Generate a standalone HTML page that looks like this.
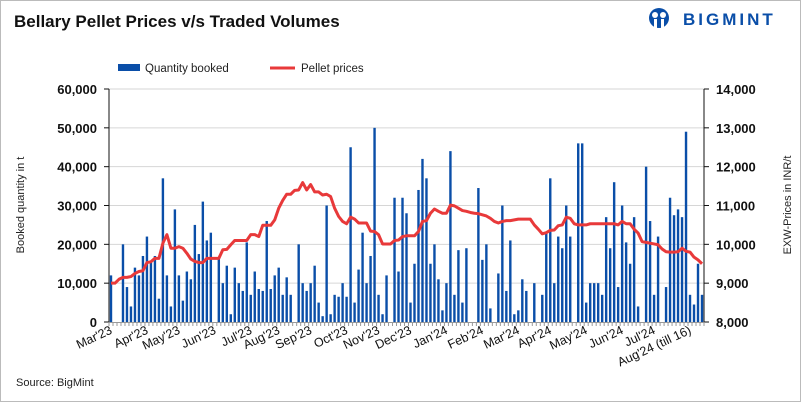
<!DOCTYPE html>
<html><head><meta charset="utf-8"><style>
body{margin:0;background:#fff;font-family:"Liberation Sans",Arial,sans-serif}
svg text{font-family:"Liberation Sans",Arial,sans-serif}
</style></head><body>
<svg width="801" height="402" viewBox="0 0 801 402">
<rect x="0.5" y="0.5" width="800" height="401" fill="#fff" stroke="#bbb"/>
<text x="14" y="27" font-size="17" font-weight="bold" fill="#111">Bellary Pellet Prices v/s Traded Volumes</text>
<g>
<circle cx="659" cy="18" r="10" fill="#0a4ea8"/>
<circle cx="655" cy="15" r="3" fill="#fff"/><circle cx="663" cy="15" r="3" fill="#fff"/>
<rect x="654" y="19" width="3" height="9" fill="#fff"/><rect x="661" y="19" width="3" height="9" fill="#fff"/>
<text x="683" y="25" font-size="17" font-weight="bold" fill="#0a4ea8" letter-spacing="3">BIGMINT</text>
</g>
<g>
<rect x="118" y="64" width="22" height="7" fill="#0a4ea8"/>
<text x="145" y="72" font-size="11.5" fill="#222">Quantity booked</text>
<line x1="270" y1="68" x2="295" y2="68" stroke="#e8393a" stroke-width="3"/>
<text x="301" y="72" font-size="11.5" fill="#222">Pellet prices</text>
</g>
<g id="grid"></g><g id="bars"></g><g id="line"></g><g id="axes"></g>
<text transform="translate(24,205) rotate(-90)" text-anchor="middle" font-size="11" fill="#222">Booked quantity in t</text>
<text transform="translate(791,205) rotate(-90)" text-anchor="middle" font-size="11" fill="#222">EXW-Prices in INR/t</text>
<text x="16" y="386" font-size="11" fill="#222">Source: BigMint</text>
</svg>
<script>
const qty=[12000,0,0,20000,9000,4000,14000,12000,17000,22000,15500,17000,6000,37000,12000,4000,29000,12000,5500,13000,11000,25000,17500,31000,21000,23000,0,16500,10000,14500,2000,14000,10000,8000,20500,7000,13000,8500,8000,26000,8500,12000,14000,7000,11500,7000,0,20000,10000,8000,10000,14500,5000,1500,30000,2000,7000,6500,10000,6500,45000,5000,13500,23000,10000,17000,50000,7000,2000,12000,0,32000,13000,32000,28000,5000,15000,34000,42000,37000,15000,20000,11000,3000,10000,44000,7000,18500,5000,19000,0,0,34500,16000,20000,3500,0,12500,30000,8000,21000,2000,3000,11000,8000,0,10000,0,7000,23000,37000,10000,22000,19000,30000,22000,0,46000,46000,5000,10000,10000,10000,7000,27000,19000,36000,9000,30000,20500,15000,27000,4000,0,40000,26000,7000,22000,0,9000,32000,27500,29000,27000,49000,7000,4500,15000,7000];
const price=[9000,9000,9100,9150,9150,9170,9250,9300,9320,9530,9550,9640,9640,10030,10250,9900,9900,9940,9900,9770,9620,9560,9530,9530,9640,9640,9640,9640,9860,9870,9990,10100,10100,10100,10100,10250,10250,10200,10490,10490,10490,10630,10930,11130,11290,11290,11390,11400,11590,11400,11540,11350,11350,11270,11290,11230,10930,10720,10590,10530,10700,10650,10550,10550,10550,10340,10330,10250,10010,10010,10010,10100,10110,10200,10220,10220,10220,10330,10590,10610,10800,10910,10850,10800,10800,11010,10990,10930,10870,10850,10820,10800,10790,10760,10730,10670,10590,10550,10590,10610,10610,10630,10650,10650,10650,10650,10500,10390,10270,10300,10360,10370,10480,10500,10700,10670,10530,10500,10500,10500,10530,10530,10530,10530,10530,10530,10530,10500,10590,10530,10530,10390,10290,10070,10050,10030,10010,9990,9880,9810,9800,9800,9810,9900,9820,9800,9670,9600,9500];
const leftTicks=["0","10,000","20,000","30,000","40,000","50,000","60,000"];
const rightTicks=["8,000","9,000","10,000","11,000","12,000","13,000","14,000"];
const monthLabels=["Mar'23","Apr'23","May'23","Jun'23","Jul'23","Aug'23","Sep'23","Oct'23","Nov'23","Dec'23","Jan'24","Feb'24","Mar'24","Apr'24","May'24","Jun'24","Jul'24","Aug'24 (till 16)"];
const monthSlot=[0,9,17,26,35,42,50,59,67,75,84,93,102,110,119,128,136,145];
const NS="http://www.w3.org/2000/svg";
const X0=109,X1=704,Y0=322,Y1=89,N=qty.length,step=(X1-X0)/N;
const xs=i=>X0+step*(i+0.5);
const yL=v=>Y0-(v/60000)*(Y0-Y1);
const yR=v=>Y0-((v-8000)/6000)*(Y0-Y1);
function mk(t,a,p){const e=document.createElementNS(NS,t);for(const k in a)e.setAttribute(k,a[k]);p.appendChild(e);return e;}
const grid=document.getElementById('grid'),bars=document.getElementById('bars'),line=document.getElementById('line'),axes=document.getElementById('axes');
leftTicks.forEach((t,i)=>{const y=yL(i*10000);
 if(i>0){const g=mk('line',{x1:X0,x2:X1,y1:y,y2:y,stroke:'#d6d6d6','stroke-width':1},grid);
 
 }
 const tx=mk('text',{x:X0-12,y:y+5,'text-anchor':'end','font-size':13,'font-weight':'bold',fill:'#111'},axes);tx.textContent=t;
 
 
 mk('line',{x1:X0-5,x2:X0,y1:y,y2:y,stroke:'#111'},axes);
});
rightTicks.forEach((t,i)=>{const y=yR(8000+i*1000);
 const tx=mk('text',{x:X1+12,y:y+5,'font-size':13,'font-weight':'bold',fill:'#111'},axes);tx.textContent=t;
 
 
 mk('line',{x1:X1,x2:X1+5,y1:y,y2:y,stroke:'#111'},axes);
});
mk('line',{x1:X0,x2:X0,y1:Y1,y2:Y0,stroke:'#111'},axes);
mk('line',{x1:X1,x2:X1,y1:Y1,y2:Y0,stroke:'#111'},axes);
mk('line',{x1:X0,x2:X1,y1:Y0+0.5,y2:Y0+0.5,stroke:'#999'},axes);
for(let i=0;i<=N;i++){mk('line',{x1:X0+step*i,x2:X0+step*i,y1:Y0,y2:Y0+4,stroke:'#999'},axes);}
qty.forEach((v,i)=>{if(!v)return;const y=yL(v);
 const r=mk('rect',{x:xs(i)-1.2,y:y,width:2.4,height:Y0-y,fill:'#0a4ea8'},bars);
 
 
});
const pl=mk('polyline',{points:price.map((v,i)=>xs(i)+','+yR(v)).join(' '),fill:'none',stroke:'#e8393a','stroke-width':3,'stroke-linejoin':'round'},line);


monthLabels.forEach((m,i)=>{const x=xs(monthSlot[i])+2;
 const tx=mk('text',{transform:'translate('+x+',333) rotate(-25)','text-anchor':'end','font-size':12.5,fill:'#111'},axes);tx.textContent=m;
 
 
});
</script>
</body></html>
